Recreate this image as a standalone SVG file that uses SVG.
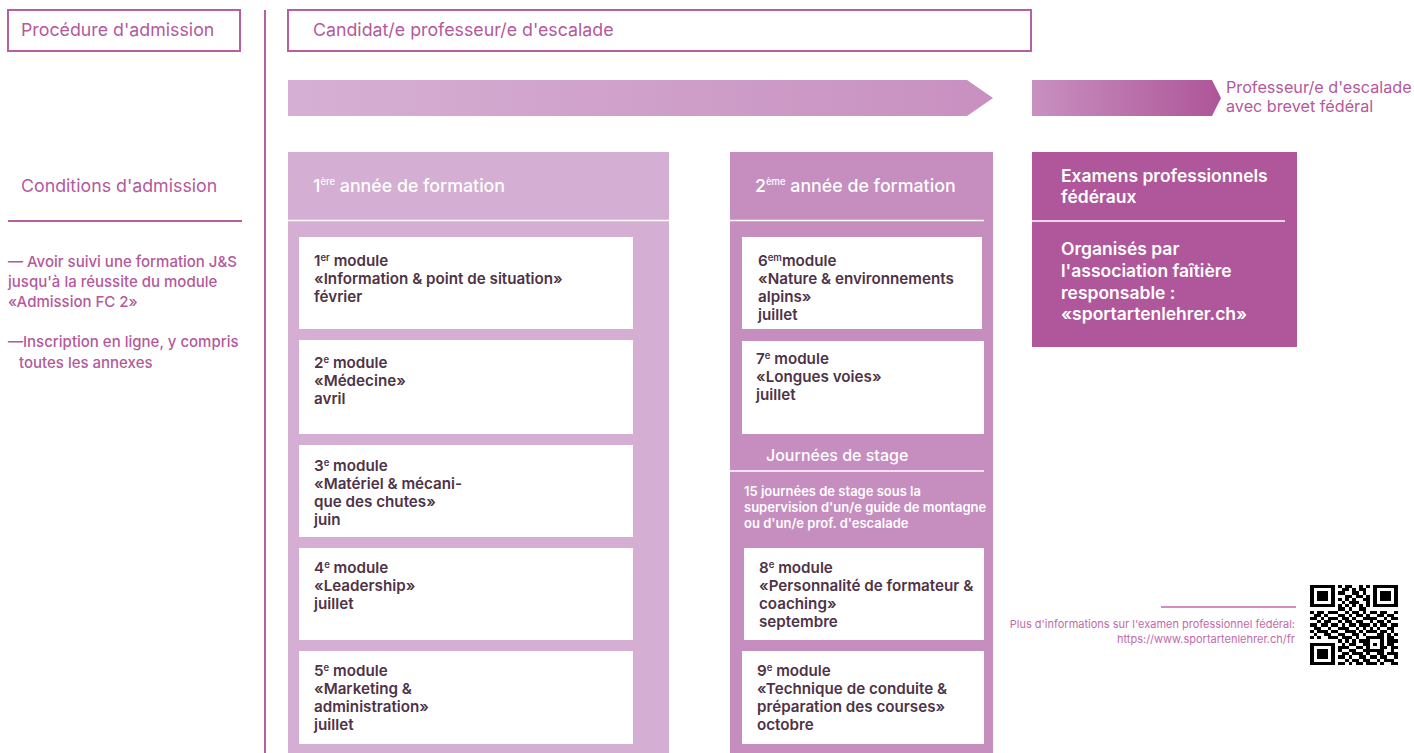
<svg xmlns="http://www.w3.org/2000/svg" width="1414" height="753" viewBox="0 0 1414 753">
<defs>
<linearGradient id="g1" x1="0" y1="0" x2="1" y2="0"><stop offset="0" stop-color="#d6b0d4"/><stop offset="1" stop-color="#c890c0"/></linearGradient>
<linearGradient id="g2" x1="0" y1="0" x2="1" y2="0"><stop offset="0" stop-color="#c890c0"/><stop offset="1" stop-color="#ae5598"/></linearGradient>
<style>
text{font-family:Inter,"Liberation Sans",sans-serif}
.frame{fill:#fff;stroke:#b85fa0;stroke-width:2}
.lbl{font-size:17.8px;fill:#b4599b}
.prof{font-size:16.2px;fill:#b4599b}
.cond{font-size:15px;font-weight:500;fill:#b4599b}
.hdr{font-size:17.8px;font-weight:500;fill:#fff}
.mod{fill:#fff}
.mt{font-size:15.2px;font-weight:600;fill:#4e3348}
.wt{font-size:17.5px;font-weight:600;fill:#fff}
.st{font-size:13px;font-weight:600;fill:#fff}
.sup{font-size:9.5px}
.foot{font-size:11px;fill:#c36aa9;text-anchor:end}
</style>
</defs>

<g id="procedure">
<rect class="frame" x="8" y="10" width="232" height="41"/>
<text class="lbl" x="21" y="36">Procédure d'admission</text>
</g>
<line x1="265" y1="10" x2="265" y2="753" stroke="#b85fa0" stroke-width="2"/>

<g id="candidat">
<rect class="frame" x="288" y="10" width="743" height="41"/>
<text class="lbl" x="313" y="36">Candidat/e professeur/e d'escalade</text>
</g>

<g id="arrows">
<polygon points="288,80 967,80 993,98 967,116 288,116" fill="url(#g1)"/>
<polygon points="1032,80 1212,80 1221,98 1212,116 1032,116" fill="url(#g2)"/>
</g>
<g id="professeur">
<text class="prof" x="1226" y="93">Professeur/e d'escalade</text>
<text class="prof" x="1226" y="112">avec brevet fédéral</text>
</g>

<g id="conditions">
<text class="lbl" x="21" y="192">Conditions d'admission</text>
<line x1="8" y1="221" x2="242" y2="221" stroke="#b85fa0" stroke-width="2"/>
<text class="cond" x="8" y="267">— Avoir suivi une formation J&amp;S</text>
<text class="cond" x="8" y="287">jusqu'à la réussite du module</text>
<text class="cond" x="8" y="307">«Admission FC 2»</text>
<text class="cond" x="8" y="347">—Inscription en ligne, y compris</text>
<text class="cond" x="19" y="368">toutes les annexes</text>
</g>

<g id="annee1">
<rect x="288" y="152" width="381" height="601" fill="#d5aed3"/>
<line x1="288" y1="220.5" x2="669" y2="220.5" stroke="#fff" stroke-width="1.5"/>
<text class="hdr" x="313" y="192">1<tspan class="sup" dy="-7">ère</tspan><tspan dy="7"> année de formation</tspan></text>
</g>

<g id="module1">
<rect class="mod" x="299" y="237" width="334" height="92"/>
<text class="mt" x="314" y="266">1<tspan class="sup" dy="-5">er</tspan><tspan dy="5"> module</tspan></text>
<text class="mt" x="314" y="284">«Information &amp; point de situation»</text>
<text class="mt" x="314" y="302">février</text>
</g>
<g id="module2">
<rect class="mod" x="299" y="340" width="334" height="94"/>
<text class="mt" x="314" y="368">2<tspan class="sup" dy="-5">e</tspan><tspan dy="5"> module</tspan></text>
<text class="mt" x="314" y="386">«Médecine»</text>
<text class="mt" x="314" y="404">avril</text>
</g>
<g id="module3">
<rect class="mod" x="299" y="445" width="334" height="92"/>
<text class="mt" x="314" y="471">3<tspan class="sup" dy="-5">e</tspan><tspan dy="5"> module</tspan></text>
<text class="mt" x="314" y="489">«Matériel &amp; mécani-</text>
<text class="mt" x="314" y="507">que des chutes»</text>
<text class="mt" x="314" y="525">juin</text>
</g>
<g id="module4">
<rect class="mod" x="299" y="548" width="334" height="92"/>
<text class="mt" x="314" y="573">4<tspan class="sup" dy="-5">e</tspan><tspan dy="5"> module</tspan></text>
<text class="mt" x="314" y="591">«Leadership»</text>
<text class="mt" x="314" y="609">juillet</text>
</g>
<g id="module5">
<rect class="mod" x="299" y="651" width="334" height="93"/>
<text class="mt" x="314" y="676">5<tspan class="sup" dy="-5">e</tspan><tspan dy="5"> module</tspan></text>
<text class="mt" x="314" y="694">«Marketing &amp;</text>
<text class="mt" x="314" y="712">administration»</text>
<text class="mt" x="314" y="730">juillet</text>
</g>

<g id="annee2">
<rect x="730" y="152" width="263" height="601" fill="#c68dbf"/>
<line x1="730" y1="220.5" x2="984" y2="220.5" stroke="#fff" stroke-width="1.5"/>
<text class="hdr" x="755" y="192">2<tspan class="sup" dy="-7">ème</tspan><tspan dy="7"> année de formation</tspan></text>
</g>

<g id="module6">
<rect class="mod" x="742" y="237" width="240" height="92"/>
<text class="mt" x="758" y="266">6<tspan class="sup" dy="-5">em</tspan><tspan dy="5">module</tspan></text>
<text class="mt" x="758" y="284">«Nature &amp; environnements</text>
<text class="mt" x="758" y="302">alpins»</text>
<text class="mt" x="758" y="320">juillet</text>
</g>
<g id="module7">
<rect class="mod" x="742" y="341" width="242" height="93"/>
<text class="mt" x="756" y="364">7<tspan class="sup" dy="-5">e</tspan><tspan dy="5"> module</tspan></text>
<text class="mt" x="756" y="382">«Longues voies»</text>
<text class="mt" x="756" y="400">juillet</text>
</g>
<g id="stage">
<text x="766" y="461" style="font-size:16px;font-weight:500;fill:#fff">Journées de stage</text>
<line x1="730" y1="471" x2="984" y2="471" stroke="#fff" stroke-width="1.5"/>
<text class="st" x="744" y="496">15 journées de stage sous la</text>
<text class="st" x="744" y="512">supervision d'un/e guide de montagne</text>
<text class="st" x="744" y="528">ou d'un/e prof. d'escalade</text>
</g>
<g id="module8">
<rect class="mod" x="744" y="548" width="240" height="92"/>
<text class="mt" x="759" y="573">8<tspan class="sup" dy="-5">e</tspan><tspan dy="5"> module</tspan></text>
<text class="mt" x="759" y="591">«Personnalité de formateur &amp;</text>
<text class="mt" x="759" y="609">coaching»</text>
<text class="mt" x="759" y="627">septembre</text>
</g>
<g id="module9">
<rect class="mod" x="742" y="651" width="242" height="93"/>
<text class="mt" x="757" y="676">9<tspan class="sup" dy="-5">e</tspan><tspan dy="5"> module</tspan></text>
<text class="mt" x="757" y="694">«Technique de conduite &amp;</text>
<text class="mt" x="757" y="712">préparation des courses»</text>
<text class="mt" x="757" y="730">octobre</text>
</g>

<g id="examens">
<rect x="1032" y="152" width="265" height="195" fill="#b0579b"/>
<line x1="1032" y1="221" x2="1285" y2="221" stroke="#fff" stroke-width="1.5"/>
<text class="wt" x="1061" y="182">Examens professionnels</text>
<text class="wt" x="1061" y="203">fédéraux</text>
<text class="wt" x="1061" y="255">Organisés par</text>
<text class="wt" x="1061" y="277">l'association faîtière</text>
<text class="wt" x="1061" y="299">responsable :</text>
<text class="wt" x="1061" y="320">«sportartenlehrer.ch»</text>
</g>

<g id="info">
<line x1="1161" y1="607" x2="1296" y2="607" stroke="#c36aa9" stroke-width="1.5"/>
<text class="foot" x="1295" y="628">Plus d'informations sur l'examen professionnel fédéral:</text>
<text class="foot" x="1295" y="643">https://www.sportartenlehrer.ch/fr</text>
</g>

<g id="qr" transform="translate(1310,585) scale(3.52,3.2)" shape-rendering="crispEdges">
<rect x="0" y="0" width="25" height="25" fill="#fff"/>
<path fill="#000" d="M0 0h7v1h-7zM8 0h1v1h-1zM10 0h2v1h-2zM14 0h1v1h-1zM16 0h1v1h-1zM18 0h7v1h-7z
M0 1h1v1h-1zM6 1h1v1h-1zM9 1h2v1h-2zM12 1h1v1h-1zM14 1h2v1h-2zM18 1h1v1h-1zM24 1h1v1h-1z
M0 2h1v1h-1zM2 2h3v1h-3zM6 2h1v1h-1zM8 2h2v1h-2zM12 2h2v1h-2zM15 2h1v1h-1zM18 2h1v1h-1zM20 2h3v1h-3zM24 2h1v1h-1z
M0 3h1v1h-1zM2 3h3v1h-3zM6 3h1v1h-1zM10 3h2v1h-2zM13 3h2v1h-2zM16 3h1v1h-1zM18 3h1v1h-1zM20 3h3v1h-3zM24 3h1v1h-1z
M0 4h1v1h-1zM2 4h3v1h-3zM6 4h1v1h-1zM8 4h1v1h-1zM10 4h1v1h-1zM12 4h1v1h-1zM15 4h2v1h-2zM18 4h1v1h-1zM20 4h3v1h-3zM24 4h1v1h-1z
M0 5h1v1h-1zM6 5h1v1h-1zM9 5h1v1h-1zM11 5h3v1h-3zM16 5h1v1h-1zM18 5h1v1h-1zM24 5h1v1h-1z
M0 6h7v1h-7zM8 6h1v1h-1zM10 6h1v1h-1zM12 6h1v1h-1zM14 6h1v1h-1zM16 6h1v1h-1zM18 6h7v1h-7z
M8 7h2v1h-2zM11 7h1v1h-1zM14 7h2v1h-2z
M0 8h1v1h-1zM2 8h2v1h-2zM5 8h3v1h-3zM10 8h1v1h-1zM12 8h2v1h-2zM15 8h1v1h-1zM17 8h2v1h-2zM20 8h2v1h-2zM24 8h1v1h-1z
M1 9h2v1h-2zM4 9h1v1h-1zM8 9h2v1h-2zM11 9h1v1h-1zM13 9h2v1h-2zM16 9h1v1h-1zM19 9h2v1h-2zM22 9h2v1h-2z
M0 10h2v1h-2zM3 10h1v1h-1zM5 10h3v1h-3zM9 10h2v1h-2zM12 10h1v1h-1zM15 10h4v1h-4zM21 10h1v1h-1zM23 10h2v1h-2z
M2 11h1v1h-1zM4 11h2v1h-2zM8 11h1v1h-1zM10 11h2v1h-2zM13 11h2v1h-2zM17 11h1v1h-1zM19 11h2v1h-2zM22 11h1v1h-1z
M0 12h2v1h-2zM3 12h2v1h-2zM6 12h2v1h-2zM9 12h1v1h-1zM11 12h2v1h-2zM14 12h3v1h-3zM18 12h1v1h-1zM20 12h2v1h-2zM23 12h2v1h-2z
M1 13h2v1h-2zM5 13h1v1h-1zM8 13h3v1h-3zM13 13h1v1h-1zM15 13h1v1h-1zM17 13h1v1h-1zM19 13h1v1h-1zM22 13h2v1h-2z
M0 14h1v1h-1zM2 14h3v1h-3zM6 14h2v1h-2zM10 14h3v1h-3zM14 14h1v1h-1zM16 14h3v1h-3zM20 14h2v1h-2zM23 14h1v1h-1z
M1 15h1v1h-1zM4 15h2v1h-2zM8 15h2v1h-2zM12 15h2v1h-2zM15 15h1v1h-1zM19 15h2v1h-2zM22 15h1v1h-1zM24 15h1v1h-1z
M0 16h1v1h-1zM2 16h1v1h-1zM5 16h3v1h-3zM9 16h3v1h-3zM13 16h1v1h-1zM16 16h5v1h-5zM22 16h2v1h-2z
M8 17h1v1h-1zM10 17h1v1h-1zM12 17h1v1h-1zM14 17h3v1h-3zM20 17h1v1h-1zM22 17h3v1h-3z
M0 18h7v1h-7zM9 18h1v1h-1zM11 18h2v1h-2zM15 18h2v1h-2zM18 18h1v1h-1zM20 18h1v1h-1zM22 18h2v1h-2z
M0 19h1v1h-1zM6 19h1v1h-1zM8 19h3v1h-3zM13 19h2v1h-2zM16 19h1v1h-1zM20 19h2v1h-2zM23 19h2v1h-2z
M0 20h1v1h-1zM2 20h3v1h-3zM6 20h1v1h-1zM8 20h1v1h-1zM11 20h2v1h-2zM15 20h6v1h-6zM23 20h1v1h-1z
M0 21h1v1h-1zM2 21h3v1h-3zM6 21h1v1h-1zM9 21h2v1h-2zM12 21h3v1h-3zM16 21h1v1h-1zM19 21h2v1h-2zM22 21h3v1h-3z
M0 22h1v1h-1zM2 22h3v1h-3zM6 22h1v1h-1zM8 22h2v1h-2zM11 22h1v1h-1zM14 22h2v1h-2zM17 22h2v1h-2zM20 22h2v1h-2zM24 22h1v1h-1z
M0 23h1v1h-1zM6 23h1v1h-1zM10 23h1v1h-1zM12 23h2v1h-2zM15 23h2v1h-2zM19 23h1v1h-1zM21 23h3v1h-3z
M0 24h7v1h-7zM8 24h2v1h-2zM11 24h1v1h-1zM13 24h2v1h-2zM16 24h3v1h-3zM20 24h1v1h-1zM23 24h2v1h-2z"/>
</g>
</svg>
